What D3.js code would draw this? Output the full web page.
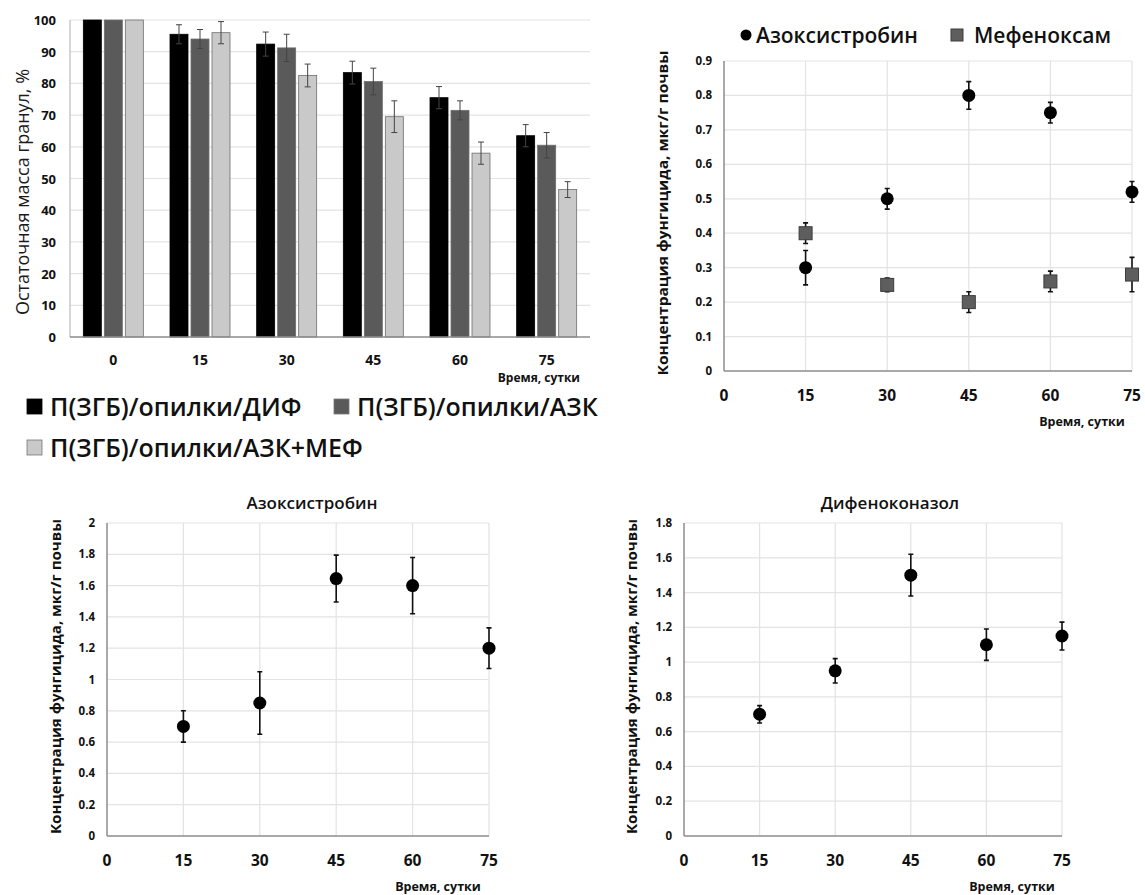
<!DOCTYPE html>
<html>
<head>
<meta charset="utf-8">
<script src="https://cdn.jsdelivr.net/npm/d3@7"></script>
<style>
  body { margin: 0; background: #fff; }
  svg text { font-family: "Open Sans", sans-serif; fill: #111; }
</style>
</head>
<body>
<svg id="fig" width="1145" height="895"></svg>
<script>
// ---- data ----
var days = ["0", "15", "30", "45", "60", "75"];
var barSeries = ["П(ЗГБ)/опилки/ДИФ", "П(ЗГБ)/опилки/АЗК", "П(ЗГБ)/опилки/АЗК+МЕФ"];
var barDif = [100, 95.5, 92.4, 83.4, 75.5, 63.5];
var barDifErr = [0, 3, 3.8, 3.6, 3.5, 3.5];
var barAzk = [100, 94, 91.2, 80.6, 71.5, 60.5];
var barAzkErr = [0, 3, 4.3, 4.2, 3, 4];
var barMef = [100, 96, 82.5, 69.5, 58, 46.5];
var barMefErr = [0, 3.5, 3.6, 5, 3.5, 2.5];
var barTicks = [0, 10, 20, 30, 40, 50, 60, 70, 80, 90, 100];

var sampleDays = [15, 30, 45, 60, 75];
var xTicks = [0, 15, 30, 45, 60, 75];

// top right: granules in soil
var azoTop = [0.30, 0.50, 0.80, 0.75, 0.52];
var azoTopErr = [0.05, 0.03, 0.04, 0.03, 0.03];
var mefTop = [0.40, 0.25, 0.20, 0.26, 0.28];
var mefTopErr = [0.03, 0.02, 0.03, 0.03, 0.05];

// bottom left
var azoBot = [0.70, 0.85, 1.645, 1.60, 1.20];
var azoBotErr = [0.10, 0.20, 0.15, 0.18, 0.13];
// bottom right
var difBot = [0.70, 0.95, 1.50, 1.10, 1.15];
var difBotErr = [0.05, 0.07, 0.12, 0.09, 0.08];

var svg = d3.select("#fig");
var gridColor = "#e3e3e3", axisColor = "#8c8c8c";
var barColors = ["#000000", "#5a5a5a", "#c9c9c9"];
var yLabelText = "Концентрация фунгицида, мкг/г почвы";

// ---------- bar chart (top left) ----------
(function () {
  var left = 70, right = 590, top = 20, bottom = 337;
  var x = d3.scaleBand().domain(days).range([left, right]);
  var y = d3.scaleLinear().domain([0, 100]).range([bottom, top]);
  var g = svg.append("g");

  g.selectAll(".grid").data(barTicks.slice(1)).enter().append("line")
    .attr("x1", left).attr("x2", right)
    .attr("y1", function(d) { return y(d); }).attr("y2", function(d) { return y(d); })
    .attr("stroke", gridColor).attr("stroke-width", 1.2);

  var vals = [barDif, barAzk, barMef], errs = [barDifErr, barAzkErr, barMefErr];
  var bw = 18, gap = 3;
  vals.forEach(function (serie, si) {
    var rows = days.map(function (d, i) { return {day: d, v: serie[i], e: errs[si][i]}; });
    var cx = function (d) { return x(d.day) + x.bandwidth() / 2 + (si - 1) * (bw + gap); };
    g.selectAll(".bar" + si).data(rows).enter().append("rect")
      .attr("x", function(d) { return cx(d) - bw / 2; })
      .attr("y", function(d) { return y(d.v); })
      .attr("width", bw)
      .attr("height", function(d) { return bottom - y(d.v); })
      .attr("fill", barColors[si])
      .attr("stroke", si == 0 ? "#000" : "#6e6e6e").attr("stroke-width", 0.8);
    var eb = rows.filter(function (d) { return d.e > 0; });
    g.selectAll(".err" + si).data(eb).enter().append("path")
      .attr("d", function (d) {
        var c = cx(d), a = y(d.v + d.e), b = y(d.v - d.e);
        return "M" + c + "," + a + "V" + b + "M" + (c - 3) + "," + a + "H" + (c + 3) + "M" + (c - 3) + "," + b + "H" + (c + 3);
      })
      .attr("stroke", "#444").attr("stroke-width", 1).attr("fill", "none");
  });

  g.append("line").attr("x1", left).attr("x2", left).attr("y1", top).attr("y2", bottom)
    .attr("stroke", "#bbb").attr("stroke-width", 1.2);
  g.append("line").attr("x1", left).attr("x2", right).attr("y1", bottom).attr("y2", bottom)
    .attr("stroke", axisColor).attr("stroke-width", 1.5);

  g.selectAll(".yt").data(barTicks).enter().append("text")
    .attr("x", left - 14).attr("y", function(d) { return y(d) + 5; })
    .attr("text-anchor", "end").attr("font-size", 13).attr("font-weight", 700)
    .text(function(d) { return d; });
  g.selectAll(".xt").data(days).enter().append("text")
    .attr("x", function(d) { return x(d) + x.bandwidth() / 2; }).attr("y", bottom + 28)
    .attr("text-anchor", "middle").attr("font-size", 14).attr("font-weight", 700)
    .text(function(d) { return d; });
  g.append("text").attr("x", 580).attr("y", 382).attr("text-anchor", "end")
    .attr("font-size", 12).attr("font-weight", 700).text("Время, сутки");
  g.append("text").attr("transform", "translate(29,192) rotate(-90)")
    .attr("text-anchor", "middle").attr("font-size", 18).style("fill", "#1a1a1a")
    .text("Остаточная масса гранул, %");

  // legend
  var legPos = [[27, 416], [334, 416], [27, 457]];
  barSeries.forEach(function (name, i) {
    var p = legPos[i];
    g.append("rect").attr("x", p[0]).attr("y", p[1] - 17).attr("width", 15).attr("height", 15)
      .attr("fill", barColors[i]).attr("stroke", i == 0 ? "#000" : "#777").attr("stroke-width", 0.8);
    g.append("text").attr("x", p[0] + 23).attr("y", p[1]).attr("font-size", 25)
      .attr("font-weight", 600).text(name);
  });
})();

// ---------- scatter panels ----------
function scatterPanel(opt) {
  var g = svg.append("g");
  var x = d3.scaleLinear().domain([0, 75]).range([opt.left, opt.right]);
  var y = d3.scaleLinear().domain([0, opt.ymax]).range([opt.bottom, opt.top]);
  var yticks = d3.range(0, opt.ymax + opt.ystep / 2, opt.ystep);

  g.selectAll(".hg").data(yticks.slice(1)).enter().append("line")
    .attr("x1", opt.left).attr("x2", opt.right)
    .attr("y1", function(d) { return y(d); }).attr("y2", function(d) { return y(d); })
    .attr("stroke", gridColor).attr("stroke-width", 1.2);
  g.selectAll(".vg").data(xTicks.slice(1)).enter().append("line")
    .attr("x1", function(d) { return x(d); }).attr("x2", function(d) { return x(d); })
    .attr("y1", opt.top).attr("y2", opt.bottom)
    .attr("stroke", gridColor).attr("stroke-width", 1.2);
  g.append("line").attr("x1", opt.left).attr("x2", opt.left).attr("y1", opt.top).attr("y2", opt.bottom)
    .attr("stroke", axisColor).attr("stroke-width", 1.5);
  g.append("line").attr("x1", opt.left).attr("x2", opt.right).attr("y1", opt.bottom).attr("y2", opt.bottom)
    .attr("stroke", axisColor).attr("stroke-width", 1.5);

  g.selectAll(".yt").data(yticks).enter().append("text")
    .attr("x", opt.left - 12).attr("y", function(d) { return y(d) + 4; })
    .attr("text-anchor", "end").attr("font-size", 11.5).attr("font-weight", 700)
    .text(function(d) { return +d.toFixed(1); });
  g.selectAll(".xt").data(xTicks).enter().append("text")
    .attr("x", function(d) { return x(d); }).attr("y", opt.bottom + 30)
    .attr("text-anchor", "middle").attr("font-size", 15.5).attr("font-weight", 700)
    .text(function(d) { return d; });
  g.append("text").attr("x", opt.xlabX).attr("y", opt.bottom + 55).attr("text-anchor", "middle")
    .attr("font-size", 12.5).attr("font-weight", 700).text("Время, сутки");
  g.append("text").attr("transform", "translate(" + opt.ylabX + "," + ((opt.top + opt.bottom) / 2 - 3) + ") rotate(-90)")
    .attr("text-anchor", "middle").attr("font-size", 14.5).attr("font-weight", 700)
    .attr("textLength", opt.ylabLen).attr("lengthAdjust", "spacingAndGlyphs").text(yLabelText);
  if (opt.title) {
    g.append("text").attr("x", opt.titleX).attr("y", opt.top - 14).attr("text-anchor", "middle")
      .attr("font-size", 17).attr("font-weight", 600).text(opt.title);
  }

  opt.series.forEach(function (s) {
    var rows = sampleDays.map(function (d, i) { return {d: d, v: s.vals[i], e: s.errs[i]}; });
    g.selectAll(null).data(rows).enter().append("path")
      .attr("d", function (r) {
        var c = x(r.d), a = y(r.v + r.e), b = y(r.v - r.e);
        return "M" + c + "," + a + "V" + b + "M" + (c - 2.5) + "," + a + "H" + (c + 2.5) + "M" + (c - 2.5) + "," + b + "H" + (c + 2.5);
      })
      .attr("stroke", "#111").attr("stroke-width", 1.6).attr("fill", "none");
    if (s.shape == "square") {
      g.selectAll(null).data(rows).enter().append("rect")
        .attr("x", function(r) { return x(r.d) - 6.5; }).attr("y", function(r) { return y(r.v) - 6.5; })
        .attr("width", 13).attr("height", 13)
        .attr("fill", "#5e5e5e").attr("stroke", "#3c3c3c").attr("stroke-width", 1);
    } else {
      g.selectAll(null).data(rows).enter().append("circle")
        .attr("cx", function(r) { return x(r.d); }).attr("cy", function(r) { return y(r.v); })
        .attr("r", 6.5).attr("fill", "#000");
    }
  });
  return g;
}

var topRight = scatterPanel({
  left: 724, right: 1132, top: 61, bottom: 371, ymax: 0.9, ystep: 0.1,
  xlabX: 1082, ylabX: 668, ylabLen: 325,
  series: [
    {vals: azoTop, errs: azoTopErr, shape: "circle"},
    {vals: mefTop, errs: mefTopErr, shape: "square"}
  ]
});
topRight.append("circle").attr("cx", 746).attr("cy", 35).attr("r", 5.5).attr("fill", "#000");
topRight.append("text").attr("x", 756).attr("y", 43).attr("font-size", 21).attr("font-weight", 600).text("Азоксистробин");
topRight.append("rect").attr("x", 951).attr("y", 29).attr("width", 12).attr("height", 12)
  .attr("fill", "#5e5e5e").attr("stroke", "#3c3c3c");
topRight.append("text").attr("x", 974).attr("y", 43).attr("font-size", 21).attr("font-weight", 600).text("Мефеноксам");

scatterPanel({
  left: 107, right: 489, top: 523, bottom: 836, ymax: 2, ystep: 0.2,
  xlabX: 438, ylabX: 61, ylabLen: 315, title: "Азоксистробин", titleX: 312,
  series: [{vals: azoBot, errs: azoBotErr, shape: "circle"}]
});

scatterPanel({
  left: 684, right: 1062, top: 523, bottom: 836, ymax: 1.8, ystep: 0.2,
  xlabX: 1012, ylabX: 637, ylabLen: 315, title: "Дифеноконазол", titleX: 890,
  series: [{vals: difBot, errs: difBotErr, shape: "circle"}]
});
</script>
</body>
</html>
